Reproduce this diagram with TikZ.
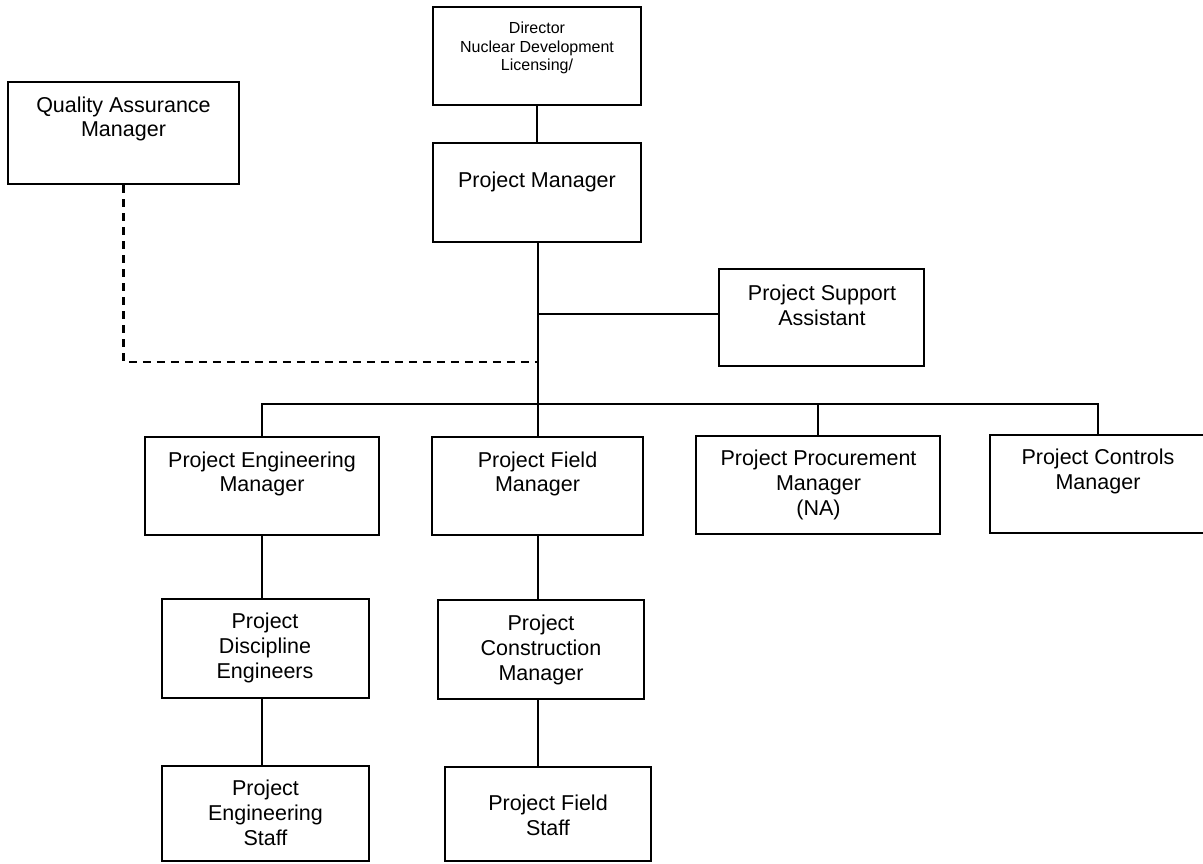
\documentclass[tikz,border=0pt]{standalone}
\usepackage{fontspec}
\setmainfont{Liberation Sans}
\begin{document}
\begin{tikzpicture}[x=1pt,y=-1pt,
  box/.style={draw, line width=2.6pt, inner sep=0pt},
  txt/.style={align=center, inner sep=0pt, font=\fontsize{21.5}{24.8}\selectfont},
  smalltxt/.style={align=center, inner sep=0pt, font=\fontsize{16}{18.5}\selectfont},
  conn/.style={line width=2.3pt},
  dconn/.style={line width=2.3pt, dash pattern=on 8pt off 6pt}]
\useasboundingbox (0,0) rectangle (1203,863);
\fill[white] (0,0) rectangle (1203,863);
% boxes
\node[box, minimum width=208pt, minimum height=98pt] (dir) at (537,56) {};
\node[box, minimum width=208pt, minimum height=99pt] (pm) at (537,192.5) {};
\node[box, minimum width=231pt, minimum height=102pt] (qa) at (123.5,133) {};
\node[box, minimum width=205pt, minimum height=97pt] (psa) at (821.5,317.5) {};
\node[box, minimum width=234pt, minimum height=98pt] (pem) at (262,486) {};
\node[box, minimum width=211pt, minimum height=98pt] (pfm) at (537.5,486) {};
\node[box, minimum width=244pt, minimum height=98pt] (ppm) at (818,485) {};
\node[box, minimum width=216pt, minimum height=98pt] (pcm) at (1098,484) {};
\node[box, minimum width=207pt, minimum height=99pt] (pde) at (265.5,648.5) {};
\node[box, minimum width=206pt, minimum height=99pt] (pcon) at (541,649.5) {};
\node[box, minimum width=207pt, minimum height=95pt] (pes) at (265.5,813.5) {};
\node[box, minimum width=206pt, minimum height=94pt] (pfs) at (548,814) {};
% texts
\node[smalltxt] (tdir) at (537,48) {Director\\Nuclear Development\\Licensing/};
\node[txt] (tpm) at (537,182) {Project Manager};
\node[txt] (tqa) at (123.5,119) {Quality Assurance\\Manager};
\node[txt] (tpsa) at (822,305) {Project Support\\Assistant};
\node[txt] (tpem) at (262,474) {Project Engineering\\Manager};
\node[txt] (tpfm) at (537.5,474) {Project Field\\Manager};
\node[txt] (tppm) at (818.5,485) {Project Procurement\\Manager\\(NA)};
\node[txt] (tpcm) at (1098,471.5) {Project Controls\\Manager};
\node[txt] (tpde) at (265,648) {Project\\Discipline\\Engineers};
\node[txt] (tpcon) at (541,650) {Project\\Construction\\Manager};
\node[txt] (tpes) at (265.5,813) {Project\\Engineering\\Staff};
\node[txt] (tpfs) at (548,815) {Project Field\\Staff};
% junctions
\coordinate (jpsa) at (538,314);
\coordinate (jqa) at (538,362);
\coordinate (jbus) at (538,404);
% connectors
\draw[conn] (dir.south) -- (pm.north);
\draw[conn] (pm.south -| jbus) -- (jbus);
\draw[conn] (jpsa) -- (jpsa -| psa.west);
\draw[dconn] (qa.south) |- (jqa);
\draw[conn] (pem.north) |- (jbus) -| (pcm.north);
\draw[conn] (jbus) -- (pfm.north -| jbus);
\draw[conn] (ppm.north |- jbus) -- (ppm.north);
\draw[conn] (pem.south) -- (pem.south |- pde.north);
\draw[conn] (pfm.south -| jbus) -- (jbus |- pcon.north);
\draw[conn] (pem.south |- pde.south) -- (pem.south |- pes.north);
\draw[conn] (jbus |- pcon.south) -- (jbus |- pfs.north);
\end{tikzpicture}
\end{document}
